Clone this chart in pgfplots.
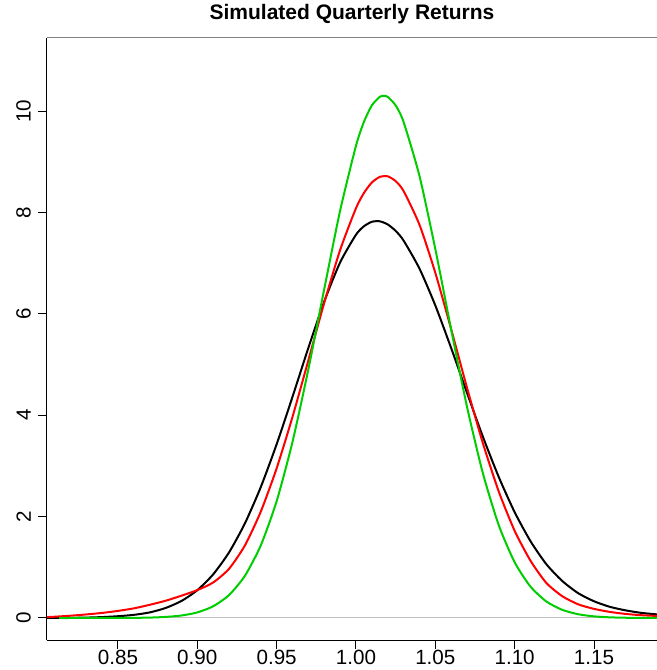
\documentclass[border=0pt]{standalone}
\usepackage{fontspec}
\setmainfont{Liberation Sans}
\usepackage{pgfplots}
\pgfplotsset{compat=1.18}
\usepackage{pgfplotstable}
\usetikzlibrary{calc}
\definecolor{rgreen}{RGB}{0,205,0}
\definecolor{rred}{RGB}{255,0,0}

\pgfplotstableread{
x y
0.805 0.001
0.81 0.001
0.82 0.003
0.83 0.008
0.84 0.018
0.85 0.035
0.86 0.062
0.87 0.11
0.88 0.197
0.89 0.335
0.90 0.548
0.91 0.860
0.92 1.293
0.93 1.865
0.94 2.581
0.95 3.426
0.96 4.362
0.97 5.328
0.98 6.241
0.99 7.013
1.00 7.559
1.005 7.726
1.01 7.815
1.015 7.825
1.02 7.763
1.025 7.636
1.03 7.445
1.04 6.893
1.05 6.165
1.06 5.323
1.07 4.439
1.08 3.574
1.09 2.779
1.10 2.087
1.11 1.514
1.12 1.060
1.13 0.73
1.14 0.49
1.15 0.33
1.16 0.22
1.17 0.15
1.18 0.10
1.19 0.07
}\blackdata

\pgfplotstableread{
x y
0.805 0.018
0.81 0.025
0.82 0.045
0.83 0.07
0.84 0.10
0.85 0.14
0.86 0.19
0.87 0.26
0.88 0.34
0.89 0.44
0.90 0.55
0.91 0.70
0.92 0.97
0.93 1.43
0.94 2.097
0.95 2.952
0.96 3.966
0.97 5.083
0.98 6.217
0.99 7.257
1.00 8.083
1.005 8.382
1.01 8.590
1.015 8.70
1.02 8.712
1.025 8.617
1.03 8.422
1.04 7.758
1.05 6.809
1.06 5.695
1.07 4.538
1.08 3.446
1.09 2.493
1.10 1.719
1.11 1.129
1.12 0.69
1.13 0.43
1.14 0.27
1.15 0.18
1.16 0.12
1.17 0.08
1.18 0.055
1.19 0.04
}\reddata

\pgfplotstableread{
x y
0.813 0.0
0.82 0.0
0.83 0.001
0.84 0.001
0.85 0.002
0.86 0.003
0.87 0.008
0.88 0.021
0.89 0.049
0.90 0.110
0.91 0.231
0.92 0.452
0.93 0.831
0.94 1.430
0.95 2.303
0.96 3.473
0.97 4.906
0.98 6.487
0.99 8.033
1.00 9.313
1.005 9.784
1.01 10.111
1.015 10.279
1.0175 10.30
1.02 10.279
1.025 10.111
1.03 9.784
1.04 8.721
1.05 7.279
1.06 5.688
1.07 4.162
1.08 2.852
1.09 1.829
1.10 1.099
1.11 0.618
1.12 0.325
1.13 0.161
1.14 0.074
1.15 0.032
1.16 0.013
1.17 0.005
1.18 0.002
1.19 0.001
}\greendata

\begin{document}
\begin{tikzpicture}
\begin{axis}[name=ax,
  scale only axis, width=305pt, height=301pt,
  xmin=0.8053, xmax=1.1897, ymin=-0.434, ymax=11.44,
  axis x line*=bottom, axis y line*=left,
  axis line style={black, line width=0.5pt, -},
  tick align=outside, major tick length=4.5pt,
  tick style={black, line width=0.5pt},
  xtick={0.85,0.90,0.95,1.00,1.05,1.10,1.15},
  xticklabels={0.85,0.90,0.95,1.00,1.05,1.10,1.15},
  xticklabel style={yshift=3pt},
  ytick={0,2,4,6,8,10},
  yticklabels={0,2,4,6,8,10},
  yticklabel style={rotate=90, anchor=south},
  ticklabel style={font=\fontsize{10.3}{12}\selectfont},
  /pgf/number format/assume math mode=true,
]
\addplot[gray!50, line width=0.5pt] coordinates {(0.8053,0) (1.1897,0)};
\addplot[black, line width=1pt, smooth, tension=0.4] table[x=x,y=y] {\blackdata};
\addplot[rred, line width=1pt, smooth, tension=0.4] table[x=x,y=y] {\reddata};
\addplot[rgreen, line width=1pt, smooth, tension=0.4] table[x=x,y=y] {\greendata};
\end{axis}
\draw[gray, line width=0.5pt] (ax.north west) -- (ax.north east);
\node[font=\bfseries\fontsize{10.5}{12}\selectfont, anchor=center] at ($(ax.north)+(0pt,12pt)$) {Simulated Quarterly Returns};
\pgfresetboundingbox
\path ($(ax.south west)+(-23.5pt,-15pt)$) rectangle ($(ax.north east)+(0pt,19pt)$);
\end{tikzpicture}
\end{document}
